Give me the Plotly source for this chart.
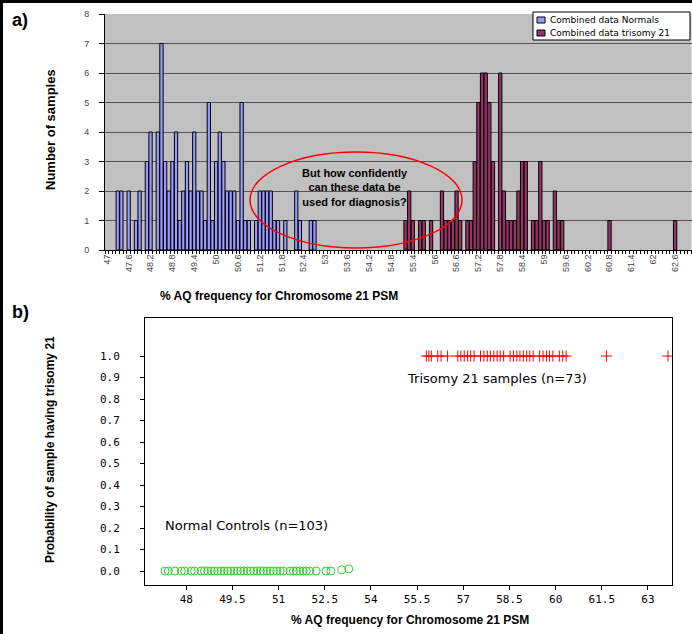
import plotly.graph_objects as go

W, H = 692, 634


def px(x):
    return x / W


def py(y):
    return 1 - y / H


# ---------------- data: panel a (histogram) ----------------
normal_bins = [47.3, 47.4, 47.6, 47.8, 47.9, 48.1, 48.2, 48.4, 48.5, 48.6, 48.7, 48.8, 48.9,
               49.0, 49.1, 49.2, 49.3, 49.4, 49.5, 49.6, 49.7, 49.8, 49.9, 50.0, 50.1, 50.2,
               50.3, 50.4, 50.5, 50.6, 50.7, 50.8, 50.9, 51.1, 51.2, 51.3, 51.4, 51.5, 51.6,
               51.7, 51.9, 52.2, 52.3, 52.6, 52.7]
normal_counts = [2, 2, 2, 1, 2, 3, 4, 4, 7, 3, 2, 3, 4,
                 1, 2, 3, 2, 4, 2, 2, 1, 5, 1, 3, 4, 3,
                 2, 2, 2, 1, 5, 1, 1, 1, 2, 2, 2, 2, 1,
                 1, 1, 2, 1, 1, 1]

trisomy_bins = [55.2, 55.3, 55.4, 55.6, 55.7, 55.9, 56.2, 56.3, 56.4, 56.5, 56.6, 56.7,
                56.9, 57.0, 57.1, 57.2, 57.3, 57.4, 57.5, 57.6, 57.8, 57.9, 58.0, 58.1,
                58.2, 58.3, 58.4, 58.5, 58.7, 58.8, 58.9, 59.0, 59.1, 59.3, 59.4, 59.5,
                60.8, 62.6]
trisomy_counts = [1, 2, 1, 1, 1, 1, 2, 1, 1, 1, 2, 1,
                  1, 1, 3, 5, 6, 6, 5, 3, 6, 2, 1, 1,
                  1, 2, 3, 3, 1, 1, 3, 1, 1, 2, 1, 1,
                  1, 1]

hist_tick_labels = ["47", "47.6", "48.2", "48.8", "49.4", "50", "50.6", "51.2", "51.8",
                    "52.4", "53", "53.6", "54.2", "54.8", "55.4", "56", "56.6", "57.2",
                    "57.8", "58.4", "59", "59.6", "60.2", "60.8", "61.4", "62", "62.6"]
legend_labels = ["Combined data Normals", "Combined data trisomy 21"]

# ---------------- data: panel b (probability), positions ----------------
normal_prob_x = [47.31, 47.42, 47.63, 47.84, 47.95, 48.16, 48.27, 48.48, 48.59, 48.70, 48.81,
                 48.91, 49.02, 49.13, 49.23, 49.34, 49.45, 49.55, 49.66, 49.77, 49.87, 49.98,
                 50.09, 50.19, 50.30, 50.41, 50.51, 50.62, 50.73, 50.83, 50.94, 51.05, 51.15,
                 51.37, 51.48, 51.58, 51.69, 51.80, 51.90, 52.01, 52.22, 52.54, 52.70, 53.05,
                 53.28]
normal_prob_y = [0.0] * 43 + [0.006, 0.01]
trisomy_prob_x = [55.80, 55.88, 55.96, 56.17, 56.28, 56.49, 56.82, 56.92, 57.03, 57.14, 57.24,
                  57.35, 57.56, 57.67, 57.78, 57.88, 57.99, 58.10, 58.20, 58.31, 58.52, 58.63,
                  58.74, 58.84, 58.95, 59.06, 59.16, 59.27, 59.48, 59.59, 59.70, 59.80, 59.91,
                  60.12, 60.23, 60.34, 61.65, 63.65]
trisomy_prob_y = [1.0] * 38

prob_x_labels = ["48", "49.5", "51", "52.5", "54", "55.5", "57", "58.5", "60", "61.5", "63"]
prob_y_labels = ["0.0", "0.1", "0.2", "0.3", "0.4", "0.5", "0.6", "0.7", "0.8", "0.9", "1.0"]

FONT = "Liberation Sans, Arial, sans-serif"
WIDE = "DejaVu Sans, sans-serif"
BLUE = "#9999FF"
MAROON = "#993366"

fig = go.Figure()

fig.add_trace(go.Bar(
    x=normal_bins, y=normal_counts, name=legend_labels[0], showlegend=False,
    marker=dict(color=BLUE, line=dict(color="black", width=1)),
    width=0.09, xaxis="x", yaxis="y"))
fig.add_trace(go.Bar(
    x=trisomy_bins, y=trisomy_counts, name=legend_labels[1], showlegend=False,
    marker=dict(color=MAROON, line=dict(color="black", width=1)),
    width=0.09, xaxis="x", yaxis="y"))

fig.add_trace(go.Scatter(
    x=normal_prob_x, y=normal_prob_y, mode="markers", showlegend=False,
    marker=dict(symbol="circle-open", size=8, color="#33CC33", line=dict(width=1)),
    xaxis="x2", yaxis="y2"))
fig.add_trace(go.Scatter(
    x=trisomy_prob_x, y=trisomy_prob_y, mode="markers", showlegend=False,
    marker=dict(symbol="cross-thin-open", size=8, color="#FF0000",
                line=dict(width=1, color="#FF0000")),
    xaxis="x2", yaxis="y2"))

fig.update_layout(
    width=W, height=H,
    margin=dict(l=0, r=0, t=0, b=0, autoexpand=False),
    paper_bgcolor="white",
    barmode="overlay",
    bargap=0,
    showlegend=False,
    font=dict(family=FONT, color="black"),
    xaxis=dict(domain=[px(105), px(691.5)], range=[46.95, 63.05],
               tickmode="array", tickvals=[float(t) for t in hist_tick_labels],
               ticktext=hist_tick_labels, tickangle=-90,
               tickfont=dict(size=9, color="#444444"), ticks="",
               minor=dict(tickmode="linear", tick0=46.95, dtick=0.1, ticks="outside",
                          ticklen=3, tickcolor="black", showgrid=False),
               showline=True, linecolor="black", linewidth=1,
               showgrid=False, zeroline=False, anchor="y", fixedrange=True),
    yaxis=dict(domain=[py(250), py(14)], range=[0, 8], dtick=1,
               tickfont=dict(size=9, color="#444444"), ticks="outside", ticklen=5,
               tickcolor="black", ticklabelstandoff=8,
               showline=True, linecolor="black", linewidth=1,
               showgrid=True, gridcolor="#555555", gridwidth=1,
               zeroline=False, anchor="x"),
    plot_bgcolor="#C0C0C0",
    xaxis2=dict(domain=[px(145), px(672)], range=[46.66, 63.78],
                tickmode="array", tickvals=[float(t) for t in prob_x_labels],
                ticktext=prob_x_labels,
                tickfont=dict(size=11, color="black", family="DejaVu Sans Mono"),
                ticks="outside", ticklen=4, tickcolor="black",
                showline=True, linecolor="black", linewidth=1, mirror=True,
                showgrid=False, zeroline=False, anchor="y2"),
    yaxis2=dict(domain=[py(585), py(318)], range=[-0.065, 1.177],
                tickmode="array", tickvals=[float(t) for t in prob_y_labels],
                ticktext=prob_y_labels,
                tickfont=dict(size=11, color="black", family="DejaVu Sans Mono"),
                ticks="outside", ticklen=4, tickcolor="black", ticklabelstandoff=18,
                showline=True, linecolor="black", linewidth=1, mirror=True,
                showgrid=False, zeroline=False, anchor="x2"),
)

# white background for panel b plot area
fig.add_shape(type="rect", xref="x2 domain", yref="y2 domain", x0=0, x1=1, y0=0, y1=1,
              fillcolor="white", line=dict(width=0), layer="below")

# ellipse
fig.add_shape(type="circle", xref="paper", yref="paper",
              x0=px(250), x1=px(462), y0=py(248), y1=py(152),
              line=dict(color="#FF0000", width=1.5))

# custom legend box for panel a
fig.add_shape(type="rect", xref="paper", yref="paper",
              x0=px(533), x1=px(690), y0=py(40), y1=py(12),
              fillcolor="white", line=dict(color="black", width=1))
for i, (lab, col) in enumerate(zip(legend_labels, [BLUE, MAROON])):
    yc = 20 + 13 * i
    fig.add_shape(type="rect", xref="paper", yref="paper",
                  x0=px(537), x1=px(545), y0=py(yc + 3), y1=py(yc - 3),
                  fillcolor=col, line=dict(color="black", width=1))
    fig.add_annotation(text=lab, x=px(548), y=py(yc), xref="paper", yref="paper",
                       showarrow=False, xanchor="left", yanchor="middle",
                       font=dict(size=9, family=WIDE, color="black"))

# frame (left, top)
for (x0, y0, x1, y1) in [(1.5, 0, 1.5, 634), (0, 1.5, 692, 1.5)]:
    fig.add_shape(type="line", xref="paper", yref="paper",
                  x0=px(x0), x1=px(x1), y0=py(y0), y1=py(y1),
                  line=dict(color="black", width=3))

ann = [
    dict(text="<b>a)</b>", x=px(10), y=py(20), size=18, xanchor="left"),
    dict(text="<b>b)</b>", x=px(10), y=py(312), size=18, xanchor="left"),
    dict(text="<b>Number of samples</b>", x=px(50), y=py(130), size=13, angle=-90),
    dict(text="<b>Probability of sample having trisomy 21</b>", x=px(50), y=py(450), size=12, angle=-90),
    dict(text="<b>% AQ frequency for Chromosome 21 PSM</b>", x=px(279), y=py(296), size=12),
    dict(text="<b>% AQ frequency for Chromosome 21 PSM</b>", x=px(410), y=py(620), size=12),
    dict(text="<b>But how confidently<br>can these data be<br>used for diagnosis?</b>",
         x=px(355), y=py(188), size=11),
    dict(text="Trisomy 21 samples (n=73)", x=px(497), y=py(379), size=13, family=WIDE),
    dict(text="Normal Controls (n=103)", x=px(247), y=py(525), size=13, family=WIDE),
]
for a in ann:
    fig.add_annotation(text=a["text"], x=a["x"], y=a["y"], xref="paper", yref="paper",
                       showarrow=False, textangle=a.get("angle", 0),
                       xanchor=a.get("xanchor", "center"), yanchor="middle",
                       font=dict(size=a["size"], family=a.get("family", FONT), color="black"))

fig.write_html("out.html",
               config={"displayModeBar": False, "staticPlot": True},
               post_script="document.body.style.margin='0px';document.body.style.overflow='hidden';")
